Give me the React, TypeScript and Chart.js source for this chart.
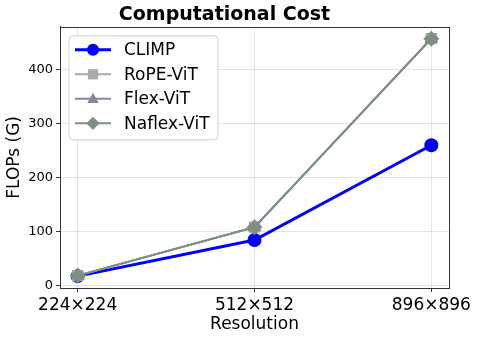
import React, { useEffect, useRef } from "react";
import { Chart, registerables } from "chart.js";
Chart.register(...registerables);

const resolutions = ["224×224", "512×512", "896×896"];
const climp = [17, 84, 260];
const ropeVit = [18, 108, 458];
const flexVit = [18, 108, 458];
const naflexVit = [18, 108, 458];
const yTicks = [0, 100, 200, 300, 400];

const seriesNames = ["CLIMP", "RoPE-ViT", "Flex-ViT", "Naflex-ViT"];
const seriesColors = ["#0000ff", "#aaaaaa", "#8a8496", "#7d9182"];
const seriesMarkers = ["circle", "rect", "triangle", "rectRot"];
const seriesValues = [climp, ropeVit, flexVit, naflexVit];

const FONT = "'DejaVu Sans', sans-serif";

function drawMarker(ctx: CanvasRenderingContext2D, style: string, x: number, y: number, r: number) {
  ctx.beginPath();
  if (style === "circle") {
    ctx.arc(x, y, r, 0, Math.PI * 2);
  } else if (style === "rect") {
    ctx.rect(x - r * 0.85, y - r * 0.85, r * 1.7, r * 1.7);
  } else if (style === "triangle") {
    ctx.moveTo(x, y - r);
    ctx.lineTo(x + r * 0.95, y + r * 0.7);
    ctx.lineTo(x - r * 0.95, y + r * 0.7);
    ctx.closePath();
  } else {
    ctx.moveTo(x, y - r * 1.1);
    ctx.lineTo(x + r * 1.1, y);
    ctx.lineTo(x, y + r * 1.1);
    ctx.lineTo(x - r * 1.1, y);
    ctx.closePath();
  }
  ctx.fill();
}

const legendPlugin = {
  id: "insideLegend",
  afterDraw(chart: any) {
    const ctx = chart.ctx;
    const a = chart.chartArea;
    const x0 = a.left + 9;
    const y0 = a.top + 9;
    const w = 149;
    const h = 104;
    ctx.save();
    ctx.beginPath();
    (ctx as any).roundRect(x0, y0, w, h, 4);
    ctx.fillStyle = "rgba(255,255,255,0.85)";
    ctx.fill();
    ctx.strokeStyle = "#d0d0d0";
    ctx.lineWidth = 1;
    ctx.stroke();
    seriesNames.forEach((name, i) => {
      const cy = y0 + 14 + i * 24.5;
      const lx0 = x0 + 6;
      const lx1 = x0 + 42;
      ctx.beginPath();
      ctx.moveTo(lx0, cy);
      ctx.lineTo(lx1, cy);
      ctx.strokeStyle = seriesColors[i];
      ctx.lineWidth = i === 0 ? 3 : 2;
      ctx.stroke();
      ctx.fillStyle = seriesColors[i];
      drawMarker(ctx, seriesMarkers[i], (lx0 + lx1) / 2, cy, 6);
      ctx.fillStyle = "#000";
      ctx.font = `17px ${FONT}`;
      ctx.textBaseline = "middle";
      ctx.textAlign = "left";
      ctx.fillText(name, x0 + 55, cy + 1);
    });
    ctx.restore();
  },
};

const frameBorder = {
  id: "frameBorder",
  beforeDatasetsDraw(chart: any) {
    const a = chart.chartArea;
    const ctx = chart.ctx;
    ctx.save();
    ctx.strokeStyle = "#333";
    ctx.lineWidth = 1;
    ctx.strokeRect(Math.round(a.left) + 0.5, Math.round(a.top) + 0.5, Math.round(a.right - a.left), Math.round(a.bottom - a.top));
    ctx.restore();
  },
};

export default function App() {
  const ref = useRef<HTMLCanvasElement>(null);
  useEffect(() => {
    document.body.style.margin = "0";
    const radii = [7, 8, 8, 8];
    const datasets = seriesNames.map((name, i) => ({
      label: name,
      data: seriesValues[i].map((v, j) => ({ x: j, y: v })),
      borderColor: seriesColors[i],
      backgroundColor: seriesColors[i],
      borderWidth: i === 0 ? 3 : 2,
      pointStyle: seriesMarkers[i] as any,
      pointRadius: radii[i],
      pointBorderWidth: 0,
      pointHoverRadius: radii[i],
      tension: 0,
      order: i === 0 ? 10 : 4 - i,
    }));
    const chart = new Chart(ref.current!, {
      type: "line",
      data: { datasets },
      plugins: [frameBorder, legendPlugin],
      options: {
        animation: false,
        responsive: false,
        layout: { padding: { left: 0, right: 30, top: 0, bottom: 0 } },
        plugins: {
          legend: { display: false },
          tooltip: { enabled: false },
          title: {
            display: true,
            text: "Computational Cost",
            color: "#000",
            font: { family: FONT, size: 19, weight: "bold" },
            padding: { top: 4, bottom: 0 },
          },
        },
        scales: {
          x: {
            type: "linear",
            min: -0.1,
            max: 2.1,
            afterBuildTicks: (s: any) => {
              s.ticks = resolutions.map((_, i) => ({ value: i }));
            },
            afterFit: (s: any) => {
              s.height = 52;
            },
            ticks: {
              callback: (v: any) => resolutions[v] ?? "",
              color: "#000",
              font: { family: FONT, size: 17 },
              padding: 3,
              maxRotation: 0,
            },
            grid: { color: "rgba(0,0,0,0.1)", tickLength: 4, tickColor: "#333" },
            border: { color: "#333" },
            title: {
              display: true,
              text: "Resolution",
              color: "#000",
              font: { family: FONT, size: 17 },
              padding: { top: 0, bottom: 5 },
            },
          },
          y: {
            min: -5,
            max: 480,
            afterBuildTicks: (s: any) => {
              s.ticks = yTicks.map((v) => ({ value: v }));
            },
            afterFit: (s: any) => {
              s.width = 60;
            },
            ticks: {
              color: "#000",
              font: { family: FONT, size: 13 },
              padding: 3,
            },
            grid: { color: "rgba(0,0,0,0.1)", tickLength: 4, tickColor: "#333" },
            border: { color: "#333" },
            title: {
              display: true,
              text: "FLOPs (G)",
              color: "#000",
              font: { family: FONT, size: 17 },
              padding: { top: 4, bottom: 2 },
            },
          },
        },
      },
    });
    return () => chart.destroy();
  }, []);
  return <canvas ref={ref} width={479} height={340} style={{ display: "block" }} />;
}
